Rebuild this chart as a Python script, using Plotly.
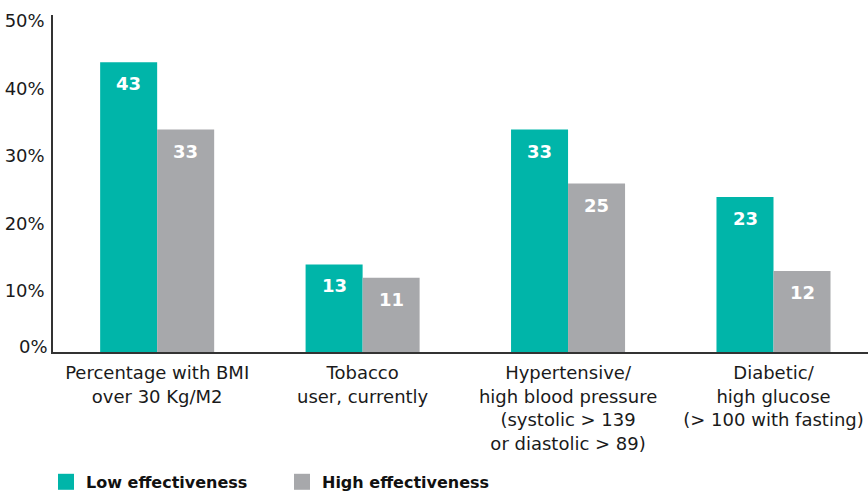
import plotly.graph_objects as go

categories = [
    "Percentage with BMI<br>over 30 Kg/M2",
    "Tobacco<br>user, currently",
    "Hypertensive/<br>high blood pressure<br>(systolic > 139<br>or diastolic > 89)",
    "Diabetic/<br>high glucose<br>(> 100 with fasting)",
]
low_effectiveness = [43, 13, 33, 23]
high_effectiveness = [33, 11, 25, 12]
y_ticks = [0, 10, 20, 30, 40, 50]
y_tick_labels = ["0%", "10%", "20%", "30%", "40%", "50%"]

TEAL = "#00b5a9"
GRAY = "#a7a8ab"
FONT = "DejaVu Sans, sans-serif"

fig = go.Figure()
fig.add_trace(go.Bar(name="Low effectiveness", x=categories, y=low_effectiveness,
                     marker=dict(color=TEAL, line=dict(width=0)), showlegend=False))
fig.add_trace(go.Bar(name="High effectiveness", x=categories, y=high_effectiveness,
                     marker=dict(color=GRAY, line=dict(width=0)), showlegend=False))

# legend entries with large square swatches
for name, color in (("Low effectiveness", TEAL), ("High effectiveness", GRAY)):
    fig.add_trace(go.Scatter(x=[None], y=[None], mode="markers", name=f"<b>{name}</b>",
                             marker=dict(symbol="square", size=16, color=color)))

# value labels inside the top of each bar
half = 28.5
for series, shift in ((low_effectiveness, -half), (high_effectiveness, half)):
    for cat, v in zip(categories, series):
        fig.add_annotation(x=cat, y=v, xref="x", yref="y", text=f"<b>{v}</b>",
                           showarrow=False, xshift=shift, yshift=-9, yanchor="top",
                           font=dict(family=FONT, size=18, color="white"))

# the 0% label sits just above the baseline
fig.add_annotation(x=0, y=0, xref="paper", yref="y", text=y_tick_labels[0],
                   showarrow=False, xanchor="right", xshift=-3, yshift=6,
                   font=dict(family=FONT, size=18, color="#1a1a1a"))

fig.update_layout(
    width=868, height=494,
    margin=dict(l=53, r=0, t=15, b=142, autoexpand=False),
    paper_bgcolor="white", plot_bgcolor="white",
    barmode="group", bargap=0.445, bargroupgap=0,
    font=dict(family=FONT, size=18, color="#1a1a1a"),
    showlegend=True,
    legend=dict(orientation="h", x=-0.0086, y=-0.335, xanchor="left", yanchor="top",
                font=dict(family=FONT, size=16, color="#111"),
                itemwidth=30, entrywidth=191, entrywidthmode="pixels",
                traceorder="normal", itemclick=False),
)
fig.update_xaxes(range=[-0.507, 3.46], showline=True, linecolor="#333", linewidth=1.5,
                 ticks="", showgrid=False, tickfont=dict(size=18), ticklabelstandoff=4)
fig.update_yaxes(range=[0, 50], tickvals=y_ticks[1:], ticktext=y_tick_labels[1:],
                 showline=True, linecolor="#333", linewidth=1.5, ticks="",
                 showgrid=False, zeroline=False, tickfont=dict(size=18),
                 ticklabelshift=6, ticklabelstandoff=3)

fig.write_html("out.html")
